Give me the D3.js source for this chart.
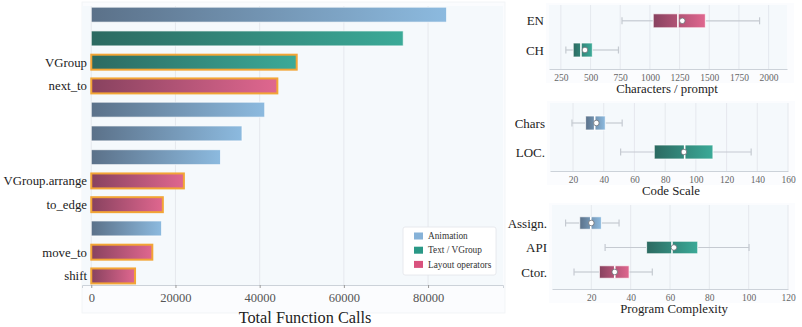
<!DOCTYPE html>
<html><head><meta charset="utf-8">
<script src="https://cdn.jsdelivr.net/npm/d3@7"></script>
<style>
html,body{margin:0;padding:0;background:#fff;}
svg{display:block;}
svg text{font-family:"Liberation Serif","Times New Roman",Times,"Nimbus Roman",serif !important;}
</style></head>
<body><svg id="c" width="802" height="327"></svg>
<script>
// ---------- data ----------
const barLabels = ["", "", "VGroup", "next_to", "", "", "", "VGroup.arrange", "to_edge", "", "move_to", "shift"];
const barValues = [84400, 74100, 48800, 44200, 41200, 35800, 30700, 22000, 17000, 16700, 14500, 10400];
const barGroups = ["anim","text","text","layout","anim","anim","anim","layout","layout","anim","layout","layout"];
const barHighlight = [false,false,true,true,false,false,false,true,true,false,true,true];
const barTicks = [0, 20000, 40000, 60000, 80000];

const legendNames = ["Animation", "Text / VGroup", "Layout operators"];
const legendKeys = ["anim", "text", "layout"];

const p1Cats = ["EN", "CH"];
const p1Groups = ["layout", "text"];
const p1Stats = [
  {lo: 765, q1: 1028, med: 1236, q3: 1467, hi: 1924, mean: 1273},
  {lo: 292, q1: 354, med: 419, q3: 515, hi: 735, mean: 453}
];
const p1Ticks = [250, 500, 750, 1000, 1250, 1500, 1750, 2000];

const p2Cats = ["Chars", "LOC."];
const p2Groups = ["anim", "text"];
const p2Stats = [
  {lo: 19.3, q1: 28.2, med: 34.1, q3: 41, hi: 52, mean: 35.2},
  {lo: 51, q1: 72.9, med: 92.7, q3: 111.1, hi: 136, mean: 92.2}
];
const p2Ticks = [20, 40, 60, 80, 100, 120, 140, 160];

const p3Cats = ["Assign.", "API", "Ctor."];
const p3Groups = ["anim", "text", "layout"];
const p3Stats = [
  {lo: 6.9, q1: 14.1, med: 19.7, q3: 25.1, hi: 34.1, mean: 20},
  {lo: 27, q1: 48.1, med: 61, q3: 74.1, hi: 100.2, mean: 62},
  {lo: 11.2, q1: 24.1, med: 31.9, q3: 39.2, hi: 51, mean: 31.9}
];
const p3Ticks = [20, 40, 60, 80, 100, 120];

// ---------- styles ----------
const grad = {
  anim:   ["#5b7189", "#8cbadf"],
  text:   ["#2c6a61", "#3baa98"],
  layout: ["#88425f", "#e0678f"]
};
const legendColor = {anim: "#86b2d8", text: "#2a9886", layout: "#d9527e"};

const svg = d3.select("#c");
const defs = svg.append("defs");
Object.entries(grad).forEach(([k, c]) => {
  const g = defs.append("linearGradient").attr("id", "g-" + k)
    .attr("x1", 0).attr("x2", 1).attr("y1", 0).attr("y2", 0);
  g.append("stop").attr("offset", "0%").attr("stop-color", c[0]);
  g.append("stop").attr("offset", "100%").attr("stop-color", c[1]);
});

// ---------- left bar chart ----------
const L = {x0: 82, x1: 503, y0: 6, y1: 285};
svg.append("rect").attr("x", L.x0).attr("y", 2).attr("width", L.x1 - L.x0 + 2).attr("height", 311)
  .attr("fill", "#fbfcfe").attr("stroke", "#f0f2f5").attr("stroke-width", 0.8);
svg.append("rect").attr("x", L.x0).attr("y", L.y0).attr("width", L.x1 - L.x0).attr("height", L.y1 - L.y0)
  .attr("fill", "#f5f9fc");

const x = d3.scaleLinear().domain([-2200, 97800]).range([L.x0, L.x1]);
const y = d3.scaleBand().domain(d3.range(barValues.length))
  .range([L.y0, L.y1 - 0.4]).paddingInner(0.37).paddingOuter(0.05);

svg.append("g").selectAll("line").data(barTicks).join("line")
  .attr("x1", d => x(d)).attr("x2", d => x(d)).attr("y1", L.y0).attr("y2", L.y1)
  .attr("stroke", "#e3e7ec").attr("stroke-width", 0.9);

svg.append("g").selectAll("rect").data(barValues).join("rect")
  .attr("x", x(0)).attr("y", (d, i) => y(i))
  .attr("width", d => x(d) - x(0)).attr("height", y.bandwidth())
  .attr("fill", (d, i) => `url(#g-${barGroups[i]})`)
  .attr("stroke", (d, i) => barHighlight[i] ? "#f2a536" : "rgba(255,255,255,0.7)")
  .attr("stroke-width", (d, i) => barHighlight[i] ? 2 : 1);

svg.append("g").selectAll("text").data(barLabels).join("text")
  .attr("x", 87).attr("y", (d, i) => y(i) + y.bandwidth() / 2)
  .attr("dy", "0.35em").attr("text-anchor", "end")
  .attr("font-size", 12.8).attr("fill", "#222").text(d => d);

const xAxis = svg.append("g").attr("transform", `translate(0,${L.y1})`)
  .call(d3.axisBottom(x).tickValues(barTicks).tickFormat(d3.format("d")).tickSize(3).tickPadding(5));
xAxis.attr("font-family", null);
xAxis.select(".domain").attr("stroke", "#ccd2d9");
xAxis.selectAll(".tick line").attr("stroke", "#999");
xAxis.selectAll("text").attr("font-size", 12.5).attr("fill", "#555");

svg.append("text").attr("x", 305).attr("y", 323).attr("text-anchor", "middle")
  .attr("font-size", 16.3).attr("fill", "#222").text("Total Function Calls");

// legend
const lg = svg.append("g");
lg.append("rect").attr("x", 403).attr("y", 227).attr("width", 93).attr("height", 48).attr("rx", 2)
  .attr("fill", "#fff").attr("stroke", "#e2e5ea").attr("stroke-width", 0.8);
legendNames.forEach((n, i) => {
  const yy = 236 + i * 14.2;
  lg.append("rect").attr("x", 414).attr("y", yy - 3.5).attr("width", 9).attr("height", 7)
    .attr("fill", legendColor[legendKeys[i]]);
  lg.append("text").attr("x", 428).attr("y", yy).attr("dy", "0.35em")
    .attr("font-size", 9.3).attr("fill", "#333").text(n);
});

// ---------- right box panels ----------
function boxPanel(cfg) {
  const {cats, groups, stats, ticks, domain, xr, yr, centers, boxH, title, titleX, titleY} = cfg;
  svg.append("rect").attr("x", xr[0] - 3).attr("y", yr[0] - 2).attr("width", xr[1] - xr[0] + 10)
    .attr("height", titleY - yr[0] - 8).attr("fill", "#fbfcfe");
  svg.append("rect").attr("x", xr[0]).attr("y", yr[0]).attr("width", xr[1] - xr[0])
    .attr("height", yr[1] - yr[0]).attr("fill", "#f5f9fc");
  const sx = d3.scaleLinear().domain(domain).range(xr);
  const sy = d3.scalePoint().domain(cats).range(centers);
  svg.append("g").selectAll("line").data(ticks).join("line")
    .attr("x1", d => sx(d)).attr("x2", d => sx(d)).attr("y1", yr[0]).attr("y2", yr[1])
    .attr("stroke", "#e3e7ec").attr("stroke-width", 0.9);
  const g = svg.append("g");
  stats.forEach((s, i) => {
    const cy = sy(cats[i]);
    const ws = "#c5cad1";
    g.append("line").attr("x1", sx(s.lo)).attr("x2", sx(s.q1)).attr("y1", cy).attr("y2", cy).attr("stroke", ws).attr("stroke-width", 1.2);
    g.append("line").attr("x1", sx(s.q3)).attr("x2", sx(s.hi)).attr("y1", cy).attr("y2", cy).attr("stroke", ws).attr("stroke-width", 1.2);
    [s.lo, s.hi].forEach(v => g.append("line").attr("x1", sx(v)).attr("x2", sx(v))
      .attr("y1", cy - 3.5).attr("y2", cy + 3.5).attr("stroke", ws).attr("stroke-width", 1.2));
    g.append("rect").attr("x", sx(s.q1)).attr("y", cy - boxH / 2)
      .attr("width", sx(s.q3) - sx(s.q1)).attr("height", boxH)
      .attr("fill", `url(#g-${groups[i]})`).attr("stroke", "rgba(255,255,255,0.75)").attr("stroke-width", 1);
    g.append("line").attr("x1", sx(s.med)).attr("x2", sx(s.med))
      .attr("y1", cy - boxH / 2).attr("y2", cy + boxH / 2).attr("stroke", "#fff").attr("stroke-width", 1.6);
    g.append("circle").attr("cx", sx(s.mean)).attr("cy", cy).attr("r", 2.8)
      .attr("fill", "#fff").attr("stroke", "#6b6f75").attr("stroke-width", 0.8);
  });
  svg.append("g").selectAll("text").data(cats).join("text")
    .attr("x", xr[0] - 5).attr("y", d => sy(d)).attr("dy", "0.35em").attr("text-anchor", "end")
    .attr("font-size", 13).attr("fill", "#222").text(d => d);
  const ax = svg.append("g").attr("transform", `translate(0,${yr[1]})`)
    .call(d3.axisBottom(sx).tickValues(ticks).tickFormat(d3.format("d")).tickSize(0).tickPadding(5.5));
  ax.attr("font-family", null);
  ax.select(".domain").attr("stroke", "#ccd2d9");
  ax.selectAll("text").attr("font-size", 9.5).attr("fill", "#666");
  svg.append("text").attr("x", titleX).attr("y", titleY).attr("text-anchor", "middle")
    .attr("font-size", 12.8).attr("fill", "#222").text(title);
}

boxPanel({cats: p1Cats, groups: p1Groups, stats: p1Stats, ticks: p1Ticks, domain: [150, 2155],
  xr: [549, 787], yr: [5, 69], centers: [20.8, 50], boxH: 14,
  title: "Characters / prompt", titleX: 667, titleY: 93});
boxPanel({cats: p2Cats, groups: p2Groups, stats: p2Stats, ticks: p2Ticks, domain: [5, 160],
  xr: [550, 788], yr: [103, 171], centers: [123, 152], boxH: 14,
  title: "Code Scale", titleX: 671, titleY: 195});
boxPanel({cats: p3Cats, groups: p3Groups, stats: p3Stats, ticks: p3Ticks, domain: [0, 120],
  xr: [552, 788], yr: [205, 289], centers: [223, 272], boxH: 12.5,
  title: "Program Complexity", titleX: 674, titleY: 313});
</script></body></html>
